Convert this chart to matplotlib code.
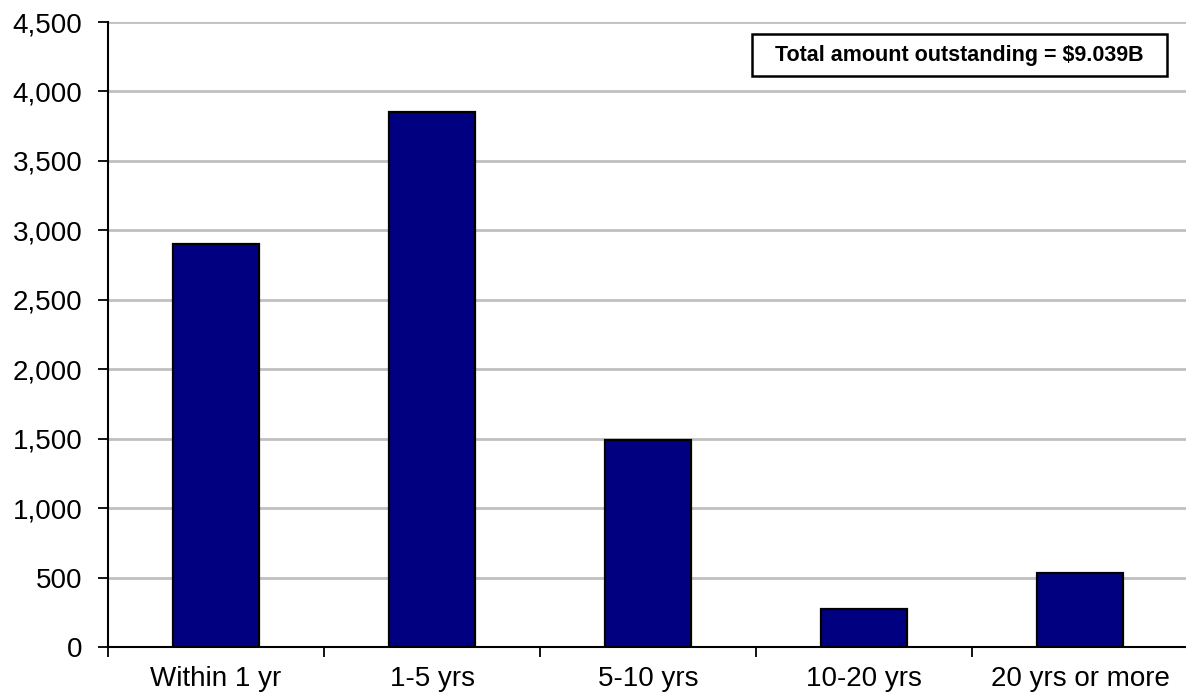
import matplotlib
matplotlib.use("Agg")
import matplotlib.pyplot as plt
from matplotlib.patches import Rectangle
from matplotlib.ticker import FuncFormatter, FixedLocator, NullFormatter

categories = ["Within 1 yr", "1-5 yrs", "5-10 yrs", "10-20 yrs", "20 yrs or more"]
amounts = [2900, 3850, 1490, 272, 532]
y_ticks = [0, 500, 1000, 1500, 2000, 2500, 3000, 3500, 4000, 4500]
note = "Total amount outstanding = $9.039B"

plt.rcParams["font.family"] = ["Liberation Sans", "DejaVu Sans"]

W, H = 1186, 698
fig = plt.figure(figsize=(W / 100, H / 100), dpi=100)
ax = fig.add_axes([108 / W, 51 / H, 1080 / W, 625 / H])

x = range(len(categories))
ax.bar(x, amounts, width=0.4, color="#000080", edgecolor="black", linewidth=1.6, zorder=3)

ax.set_xlim(-0.5, len(categories) - 0.5)
ax.set_ylim(0, 4500)
ax.set_yticks(y_ticks)
ax.yaxis.set_major_formatter(FuncFormatter(lambda v, p: f"{int(v):,}"))
ax.grid(axis="y", color="#c0c0c0", linewidth=2, zorder=0)

# category labels centred, ticks at category boundaries
ax.xaxis.set_major_locator(FixedLocator([i - 0.5 for i in range(len(categories) + 1)]))
ax.xaxis.set_major_formatter(NullFormatter())
ax.xaxis.set_minor_locator(FixedLocator(list(x)))
ax.set_xticklabels(categories, minor=True)
ax.tick_params(axis="x", which="minor", length=0, pad=14, labelsize=20)
ax.tick_params(axis="x", which="major", length=7, width=1.3, direction="out")
ax.tick_params(axis="y", length=7, width=1.3, direction="out", labelsize=20, pad=11.5)

for s in ("top", "right"):
    ax.spines[s].set_visible(False)
for s in ("left", "bottom"):
    ax.spines[s].set_linewidth(1.5)
    ax.spines[s].set_zorder(4)

# note box in the upper right corner
bx0, by0, bx1, by1 = 752, 34, 1167, 76
fig.patches.append(Rectangle((bx0 / W, 1 - by1 / H), (bx1 - bx0) / W, (by1 - by0) / H,
                             transform=fig.transFigure, facecolor="white",
                             edgecolor="black", linewidth=1.8, zorder=5))
fig.text((bx0 + bx1) / 2 / W, 1 - (by0 + by1) / 2 / H, note, ha="center", va="center",
         fontsize=15.5, fontweight="bold", zorder=6)

fig.savefig("out.png", dpi=100)
